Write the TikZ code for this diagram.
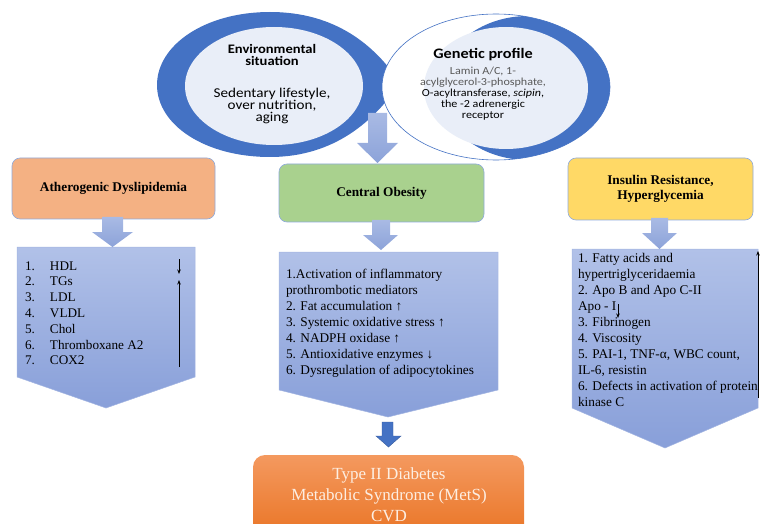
\documentclass[tikz,border=0pt]{standalone}
\usepackage{fontspec}
\setmainfont{Liberation Serif}
\newfontfamily\calib{Carlito}
\usetikzlibrary{arrows.meta}
\definecolor{dblue}{HTML}{4472C4}
\definecolor{lightell}{HTML}{E9EEF8}
\definecolor{atho}{HTML}{F4B183}
\definecolor{cgreen}{HTML}{A9D18E}
\definecolor{iyellow}{HTML}{FFD966}
\definecolor{boxedge}{HTML}{8FAADC}
\definecolor{pentop}{HTML}{B1C1E8}
\definecolor{penbot}{HTML}{889FD9}
\definecolor{penedge}{HTML}{A3B5E2}
\definecolor{arrtop}{HTML}{A9BAE4}
\definecolor{arrbot}{HTML}{8CA3D9}
\definecolor{otop}{HTML}{F4995F}
\definecolor{obot}{HTML}{E8701E}
\definecolor{otext}{HTML}{FDEEE2}
\newcommand\Cstack[1]{\vtop{\halign{\hfil##\hfil\cr#1\crcr}}}
\newcommand\Lstack[1]{\vtop{\halign{##\hfil\cr#1\crcr}}}
\newcommand\Nstack[1]{\vtop{\halign{\hbox to 25pt{##\hfil}&##\hfil\cr#1\crcr}}}
\begin{document}
\begin{tikzpicture}[x=1pt,y=-1pt,
  hdr/.style={draw=boxedge, line width=0.6pt, rounded corners=8pt, inner sep=0pt,
     font=\bfseries\fontsize{13.3}{15}\selectfont},
  pent/.style={top color=pentop, bottom color=penbot, draw=penedge, line width=0.5pt},
  barrow/.style={top color=arrtop, bottom color=arrbot, draw=none},
  txt/.style={inner sep=0pt, outer sep=0pt},
  lst/.style={txt, anchor=base west, font=\fontsize{13.3}{16}\selectfont},
  thinarr/.style={-{Stealth[length=4.5pt,width=3.5pt]}, line width=0.7pt, black}]
\useasboundingbox (0,0) rectangle (761,524);
\clip (0,0) rectangle (761,524);
% ---------- left teardrop ----------
\fill[dblue] (400,83) .. controls (375,45) and (335,12) .. (270,12)
  .. controls (205,12) and (157,45) .. (157,85)
  .. controls (157,125) and (205,157) .. (270,157)
  .. controls (335,157) and (375,120) .. (400,83) -- cycle;
\fill[lightell] (274,86) ellipse [x radius=89, y radius=59];
% ---------- right ellipse ----------
\begin{scope}
  \clip (496,87) ellipse [x radius=114, y radius=73];
  \fill[white] (496,87) ellipse [x radius=114, y radius=73];
  \fill[dblue] (528,88) ellipse [x radius=88, y radius=72];
  \fill[lightell] (506,88) ellipse [x radius=82, y radius=61];
\end{scope}
\draw[dblue, line width=0.6pt] (496,87) ellipse [x radius=114, y radius=73];
% ---------- top texts ----------
\node[txt, anchor=base, font=\calib\bfseries\fontsize{13}{12}\selectfont] (envh) at (272,54)
  {\scalebox{1.12}[1]{\Cstack{Environmental\cr situation}}};
\node[txt, anchor=base, font=\calib\fontsize{13.5}{12}\selectfont] (envt) at (272,98)
  {\scalebox{1.12}[1]{\Cstack{Sedentary lifestyle,\cr over nutrition,\cr aging}}};
\node[txt, anchor=base, font=\calib\bfseries\fontsize{14.5}{14}\selectfont] (genh) at (483,59)
  {\scalebox{1.12}[1]{Genetic profile}};
\node[txt, anchor=base, font=\calib\fontsize{10.8}{10.8}\selectfont] (gent) at (483,75)
  {\scalebox{1.12}[1]{\Cstack{\color{black!65}Lamin A/C, 1-\cr \color{black!65}acylglycerol-3-phosphate,\cr O-acyltransferase, \textit{scipin},\cr the -2 adrenergic\cr receptor}}};
% ---------- header boxes ----------
\node[hdr, fill=atho, minimum width=203, minimum height=61] (ath) at (113.5,188.5) {Atherogenic Dyslipidemia};
\node[hdr, fill=cgreen, minimum width=205, minimum height=58] (cob) at (381.5,193) {Central Obesity};
\node[hdr, fill=iyellow, minimum width=185, minimum height=62] (ins) at (660.5,189) {\Cstack{Insulin Resistance,\cr Hyperglycemia}};
% ---------- pentagons ----------
\path[pent] (17,247) -- (195,247) -- (195,377) -- (106,408) -- (17,377) -- cycle;
\path[pent] (279,252) -- (498,252) -- (498,390) -- (388,417) -- (279,390) -- cycle;
\path[pent] (572,249) -- (758,249) -- (758,408) -- (665,448) -- (572,408) -- cycle;
% ---------- block arrows ----------
\path[barrow] (368,113) -- (387,113) -- (387,143) -- (398,143) -- (377.5,163) -- (357,143) -- (368,143) -- cycle;
\path[barrow] (102,217) -- (123,217) -- (123,232) -- (133,232) -- (112.5,247) -- (92,232) -- (102,232) -- cycle;
\path[barrow] (372,220) -- (390,220) -- (390,235) -- (398,235) -- (381,250) -- (363,235) -- (372,235) -- cycle;
\path[barrow] (651,218) -- (668,218) -- (668,233) -- (677,233) -- (659.5,249) -- (642,233) -- (651,233) -- cycle;
\path[fill=dblue, draw=dblue!80!black, line width=0.4pt] (382,422) -- (393,422) -- (393,436) -- (401,436) -- (388.5,447) -- (376,436) -- (382,436) -- cycle;
% ---------- lists ----------
\node[lst, font=\fontsize{13.2}{15.8}\selectfont] (llist) at (25,270)
  {\Nstack{1.&HDL\cr 2.&TGs\cr 3.&LDL\cr 4.&VLDL\cr 5.&Chol\cr 6.&Thromboxane A2\cr 7.&COX2}};
\node[lst] (clist) at (286,278.5)
  {\Lstack{1.Activation of inflammatory\cr prothrombotic mediators\cr 2. Fat accumulation ↑\cr 3. Systemic oxidative stress ↑\cr 4. NADPH oxidase ↑\cr 5. Antioxidative enzymes ↓\cr 6. Dysregulation of adipocytokines}};
\node[lst, font=\fontsize{13.3}{16.1}\selectfont] (rlist) at (578,262)
  {\Lstack{1. Fatty acids and\cr hypertriglyceridaemia\cr 2. Apo B and Apo C-II\cr Apo - I\cr 3. Fibrinogen\cr 4. Viscosity\cr 5. PAI-1, TNF-α, WBC count,\cr IL-6, resistin\cr 6. Defects in activation of protein\cr kinase C}};
% ---------- thin arrows ----------
\coordinate (a1s) at (179,259); \coordinate (a1e) at (179,274);
\coordinate (a2s) at (179,367); \coordinate (a2e) at (179,280);
\coordinate (a3s) at (758,398); \coordinate (a3e) at (758,251);
\coordinate (a4s) at (618,304); \coordinate (a4e) at (618,318);
\draw[thinarr] (a1s) -- (a1e);
\draw[thinarr] (a2s) -- (a2e);
\draw[thinarr] (a3s) -- (a3e);
\draw[thinarr] (a4s) -- (a4e);
% ---------- bottom box ----------
\shade[top color=otop, bottom color=obot, rounded corners=12pt] (253,455) rectangle (524,548);
\node[txt, anchor=base, text=otext, font=\fontsize{17}{21}\selectfont] (outc) at (389,479)
  {\Cstack{Type II Diabetes\cr Metabolic Syndrome (MetS)\cr CVD}};
\end{tikzpicture}
\end{document}
